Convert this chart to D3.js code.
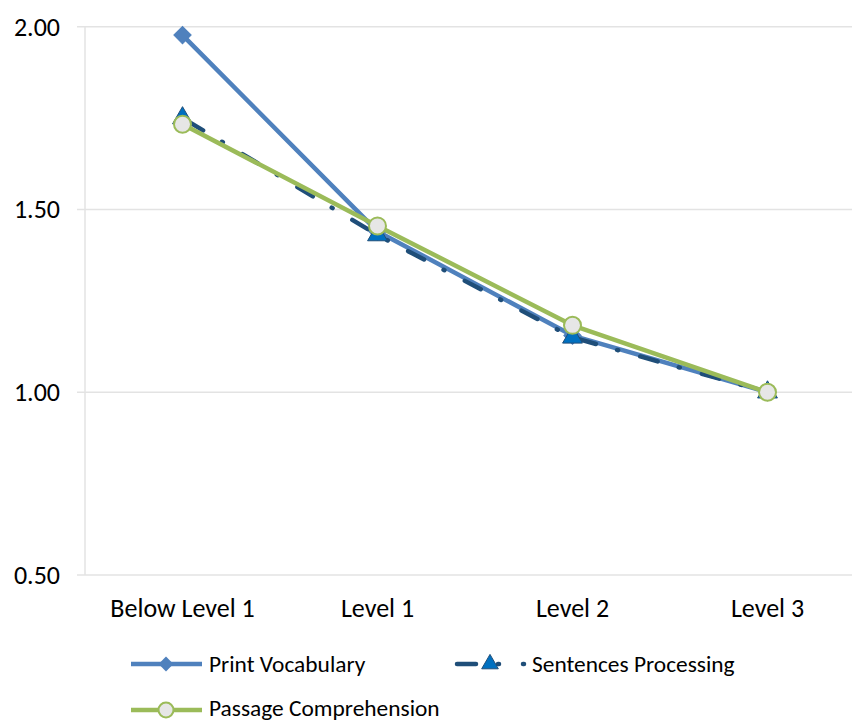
<!DOCTYPE html>
<html><head><meta charset="utf-8">
<script src="https://cdn.jsdelivr.net/npm/d3@7/dist/d3.min.js"></script>
<style>body{margin:0;background:#fff}svg{display:block}text{font-family:Carlito,'Liberation Sans Narrow','Open Sans',sans-serif;fill:#000}</style>
</head><body><svg id="c" width="852" height="722"></svg>
<script>
const categories = ["Below Level 1","Level 1","Level 2","Level 3"];
const printVocabulary = [1.977, 1.44, 1.155, 1.0];
const sentencesProcessing = [1.75, 1.43, 1.15, 1.0];
const passageComprehension = [1.733, 1.455, 1.183, 1.0];
const yTicks = [0.5, 1.0, 1.5, 2.0];

const svg = d3.select("#c");
const left = 85, bandW = 195;
const x = d3.scaleBand().domain(categories).range([left, left + bandW*4]).padding(0);
const y = d3.scaleLinear().domain([0.5, 2.0]).range([575, 26.7]);
const xc = c => x(c) + x.bandwidth()/2;

// gridlines
const g = svg.append("g");
g.selectAll("line.grid").data(yTicks).join("line")
  .attr("x1", 77).attr("x2", 852).attr("y1", d=>y(d)).attr("y2", d=>y(d))
  .attr("stroke", "#e3e3e3").attr("stroke-width", 1.5);
g.append("line").attr("x1", left).attr("x2", left).attr("y1", y(2.0)).attr("y2", y(0.5))
  .attr("stroke", "#e3e3e3").attr("stroke-width", 1.5);

// y axis labels
const yAxis = d3.axisLeft(y).tickValues(yTicks).tickFormat(d3.format(".2f")).tickSize(0).tickPadding(0);
const ya = svg.append("g").attr("transform", "translate(60,0)").call(yAxis);
ya.select(".domain").remove();
ya.selectAll("text").style("font-size", "26px").style("font-family","Carlito,'Open Sans',sans-serif").attr("fill", "#000").attr("dy", "0.32em");

// x axis labels
const xAxis = d3.axisBottom(x).tickSize(0).tickPadding(0);
const xa = svg.append("g").attr("transform", "translate(0,609)").call(xAxis);
xa.select(".domain").remove();
xa.selectAll("text").style("font-size", "26px").style("font-family","Carlito,'Open Sans',sans-serif").attr("fill", "#000").attr("dy", "0.32em");

const line = d3.line().x((d,i)=>xc(categories[i])).y(d=>y(d));

const blue = "#4F81BD", green = "#9BBB59", navy = "#1F4E79";
const dashPattern = "18,22,1,23";

// Print Vocabulary
svg.append("path").attr("d", line(printVocabulary)).attr("fill","none")
  .attr("stroke", blue).attr("stroke-width", 4.5).attr("stroke-linejoin","round");
svg.selectAll("path.dia").data(printVocabulary).join("path").attr("class","dia")
  .attr("d", d3.symbol().type(d3.symbolSquare).size(150))
  .attr("transform", (d,i)=>`translate(${xc(categories[i])},${y(d)}) rotate(45)`)
  .attr("fill", blue).attr("stroke", blue);

// Sentences Processing
svg.append("path").attr("d", line(sentencesProcessing)).attr("fill","none")
  .attr("stroke", navy).attr("stroke-width", 4.5).attr("stroke-linecap","round")
  .attr("stroke-dasharray", dashPattern).attr("stroke-dashoffset", -6);
svg.selectAll("path.tri").data(sentencesProcessing).join("path").attr("class","tri")
  .attr("d", d3.symbol().type(d3.symbolTriangle).size(170))
  .attr("transform", (d,i)=>`translate(${xc(categories[i])},${y(d)})`)
  .attr("fill", "#0070C0").attr("stroke", navy).attr("stroke-width", 1);

// Passage Comprehension
svg.append("path").attr("d", line(passageComprehension)).attr("fill","none")
  .attr("stroke", green).attr("stroke-width", 4.5).attr("stroke-linejoin","round");
svg.selectAll("circle.pc").data(passageComprehension).join("circle").attr("class","pc")
  .attr("cx", (d,i)=>xc(categories[i])).attr("cy", d=>y(d)).attr("r", 8.5)
  .attr("fill", "#E6E6E6").attr("stroke", green).attr("stroke-width", 2);

// Legend
const lg = svg.append("g");
function legLine(x1, x2, yy, color, dash){
  const l = lg.append("line").attr("x1",x1).attr("x2",x2).attr("y1",yy).attr("y2",yy)
    .attr("stroke",color).attr("stroke-width",4.5).attr("stroke-linecap", dash? "round":"butt");
  if (dash) l.attr("stroke-dasharray", dash);
  return l;
}
const fs = "23.4px";
// row 1: Print Vocabulary
legLine(131, 202, 664, blue);
lg.append("path").attr("d", d3.symbol().type(d3.symbolSquare).size(110))
  .attr("transform","translate(166,664) rotate(45)").attr("fill", blue);
lg.append("text").attr("x", 209).attr("y", 664).attr("dy","0.33em").style("font-size",fs).text("Print Vocabulary");
// Sentences Processing
legLine(457, 476, 664, navy, "19,1000");
lg.append("path").attr("d", d3.symbol().type(d3.symbolTriangle).size(120))
  .attr("transform","translate(490,664)").attr("fill","#0070C0").attr("stroke",navy).attr("stroke-width",1);
legLine(498, 499, 664, navy, "1,1000");
legLine(523, 524, 664, navy, "1,1000");
lg.append("text").attr("x", 532).attr("y", 664).attr("dy","0.33em").style("font-size",fs).text("Sentences Processing");
// row 2: Passage Comprehension
legLine(131, 202, 710, green);
lg.append("circle").attr("cx",166).attr("cy",710).attr("r",7.5).attr("fill","#E6E6E6").attr("stroke",green).attr("stroke-width",2);
lg.append("text").attr("x", 209).attr("y", 708).attr("dy","0.33em").style("font-size",fs).text("Passage Comprehension");
</script></body></html>
